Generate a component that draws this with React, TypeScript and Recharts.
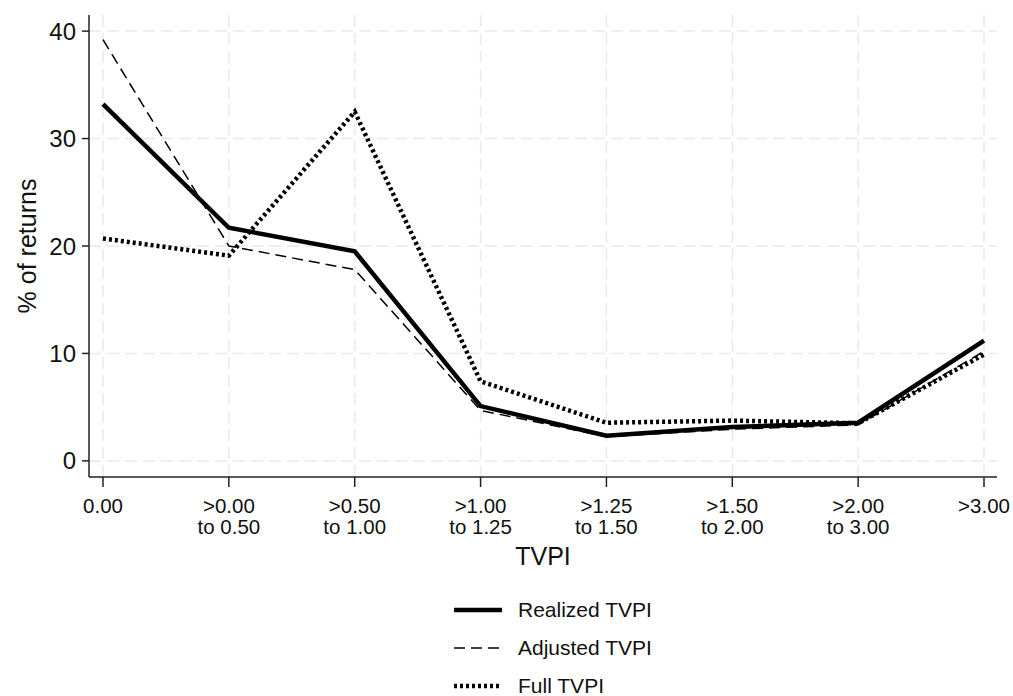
import { LineChart, Line, XAxis, YAxis, ReferenceLine, Legend } from 'recharts'

const categories = [
    '0.00',
    '>0.00\nto 0.50',
    '>0.50\nto 1.00',
    '>1.00\nto 1.25',
    '>1.25\nto 1.50',
    '>1.50\nto 2.00',
    '>2.00\nto 3.00',
    '>3.00',
]
const realized = [33.2, 21.7, 19.5, 5.1, 2.35, 3.15, 3.55, 11.2]
const adjusted = [39.2, 20.0, 17.8, 4.7, 2.25, 2.95, 3.35, 10.2]
const full = [20.7, 19.1, 32.5, 7.4, 3.55, 3.75, 3.5, 9.9]
const yTicks = [0, 10, 20, 30, 40]

const FONT = '"Liberation Sans", Arial, sans-serif'
const GRID = { stroke: '#e9e9e9', strokeWidth: 1.5, strokeDasharray: '12 6' }

const data = categories.map((c, i) => ({
    cat: c,
    realized: realized[i],
    adjusted: adjusted[i],
    full: full[i],
}))

const SERIES = [
    { key: 'realized', name: 'Realized TVPI', width: 4.5, dash: undefined as string | undefined },
    { key: 'adjusted', name: 'Adjusted TVPI', width: 1.5, dash: '11 6' },
    { key: 'full', name: 'Full TVPI', width: 4.5, dash: '3 3' },
]

const XTick = (props: any) => {
    const { x, y, payload } = props
    const lines = String(payload.value).split('\n')
    return (
        <g>
            {lines.map((l, i) => (
                <text
                    key={i}
                    x={x}
                    y={y + 26 + i * 21}
                    textAnchor="middle"
                    fill="#111"
                    fontSize={20.5}
                    fontFamily={FONT}
                >
                    {l}
                </text>
            ))}
        </g>
    )
}

const LegendBox = () => (
    <div style={{ fontFamily: FONT, fontSize: 21, color: '#111' }}>
        {SERIES.map((s) => (
            <div key={s.key} style={{ display: 'flex', alignItems: 'center', height: 38 }}>
                <svg width={50} height={10} style={{ marginRight: 15 }}>
                    <line x1={1} y1={5} x2={49} y2={5} stroke="#000" strokeWidth={s.width} strokeDasharray={s.dash} />
                </svg>
                <span>{s.name}</span>
            </div>
        ))}
    </div>
)

export default function App() {
    return (
        <div style={{ position: 'absolute', left: 0, top: 0, background: '#fff' }}>
            <LineChart width={1013} height={696} data={data} margin={{ top: 15, right: 16, bottom: 119, left: 29 }}>
                {/* grid only at the ticks, none on the plot edges */}
                {yTicks.map((t) => (
                    <ReferenceLine key={`h${t}`} y={t} {...GRID} />
                ))}
                {categories.map((c) => (
                    <ReferenceLine key={`v${c}`} x={c} {...GRID} />
                ))}
                <XAxis
                    dataKey="cat"
                    interval={0}
                    height={100}
                    padding={{ left: 14, right: 13 }}
                    tick={<XTick />}
                    tickSize={10}
                    tickMargin={0}
                    axisLine={{ stroke: '#222', strokeWidth: 1.5 }}
                    tickLine={{ stroke: '#222', strokeWidth: 1.5 }}
                    label={{
                        value: 'TVPI',
                        position: 'insideBottom',
                        offset: 12,
                        fill: '#111',
                        fontSize: 25,
                        fontFamily: FONT,
                    }}
                />
                <YAxis
                    width={60}
                    domain={[-1.5, 41.5]}
                    ticks={yTicks}
                    allowDataOverflow
                    tickSize={7}
                    tickMargin={6}
                    tick={{ fill: '#111', fontSize: 24, fontFamily: FONT }}
                    axisLine={{ stroke: '#222', strokeWidth: 1.5 }}
                    tickLine={{ stroke: '#222', strokeWidth: 1.5 }}
                    label={{
                        content: (p: any) => {
                            const vb = p.viewBox
                            const cy = vb.y + vb.height / 2
                            return (
                                <text
                                    x={27}
                                    y={cy}
                                    transform={`rotate(-90, 27, ${cy})`}
                                    textAnchor="middle"
                                    dominantBaseline="central"
                                    fill="#111"
                                    fontSize={25}
                                    fontFamily={FONT}
                                >
                                    % of returns
                                </text>
                            )
                        },
                    }}
                />
                <Legend
                    layout="vertical"
                    align="center"
                    verticalAlign="middle"
                    content={<LegendBox />}
                    wrapperStyle={{ left: 453, top: 591, width: 260 }}
                />
                {SERIES.map((s) => (
                    <Line
                        key={s.key}
                        type="linear"
                        dataKey={s.key}
                        name={s.name}
                        stroke="#000"
                        strokeWidth={s.width}
                        strokeDasharray={s.dash}
                        strokeLinejoin="miter"
                        dot={false}
                        activeDot={false}
                        isAnimationActive={false}
                    />
                ))}
            </LineChart>
        </div>
    )
}
